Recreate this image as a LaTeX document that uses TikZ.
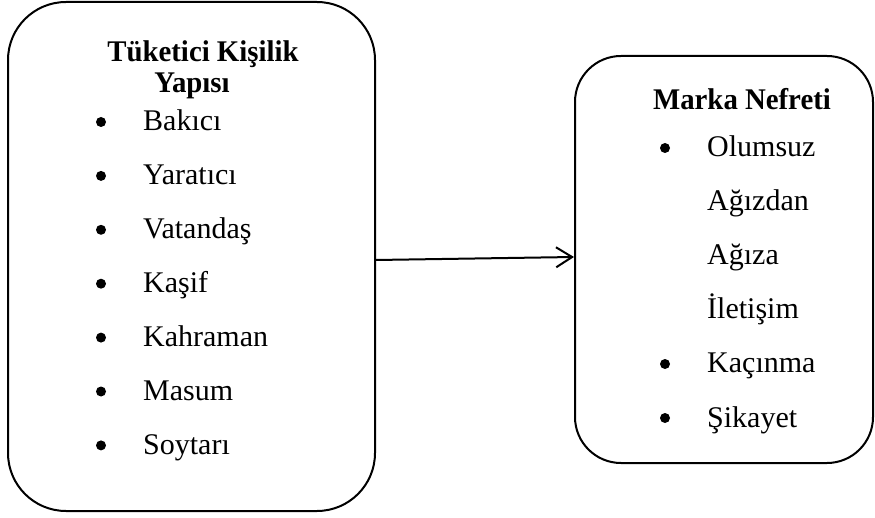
\documentclass[tikz,border=0pt]{standalone}
\usepackage{fontspec}
\setmainfont{Liberation Serif}[BoldFeatures={FakeStretch=0.96}]
\usetikzlibrary{arrows.meta}
\tikzset{
  box/.style={draw, line width=2pt, rounded corners=#1, inner sep=0pt},
  item/.style={anchor=base west, inner sep=0pt, font=\fontsize{30}{34}\selectfont},
  dot/.style={circle, fill, inner sep=0pt, minimum size=10pt},
  ttl/.style={anchor=base, inner sep=0pt, font=\fontsize{30}{34}\selectfont\bfseries},
}
\begin{document}
\begin{tikzpicture}[x=1pt,y=-1pt]
\useasboundingbox (0,0) rectangle (875,518);
\node[box=58pt, minimum width=367pt, minimum height=509pt] (L) at (191.5,256.5) {};
\node[box=46pt, minimum width=298pt, minimum height=407pt] (R) at (724,259.5) {};
\node[ttl] (lt1) at (203,62) {Tüketici Kişilik};
\node[ttl] (lt2) at (192,93) {Yapısı};
\foreach \t [count=\i] in {Bakıcı,Yaratıcı,Vatandaş,Kaşif,Kahraman,Masum,Soytarı}{
  \pgfmathsetmacro{\yy}{131+(\i-1)*53.9}
  \node[dot] (lb\i) at (101,\yy-9) {};
  \node[item] (li\i) at (143,\yy) {\t};
}
\node[ttl] (rt) at (742,110) {Marka Nefreti};
\node[dot] (rb1) at (665,157-9) {};
\node[item] (ri1) at (707,157) {Olumsuz};
\node[item] (ri2) at (707,211) {Ağızdan};
\node[item] (ri3) at (707,265) {Ağıza};
\node[item] (ri4) at (707,319) {İletişim};
\node[dot] (rb5) at (665,373-9) {};
\node[item] (ri5) at (707,373) {Kaçınma};
\node[dot] (rb6) at (665,427-9) {};
\node[item] (ri6) at (707,427) {Şikayet};
\draw[line width=2pt, -{Straight Barb[length=16pt,width=20pt,line width=2pt]}]
  ([yshift=-3.5pt]L.east) -- ([yshift=2.5pt]R.west);
\end{tikzpicture}
\end{document}
